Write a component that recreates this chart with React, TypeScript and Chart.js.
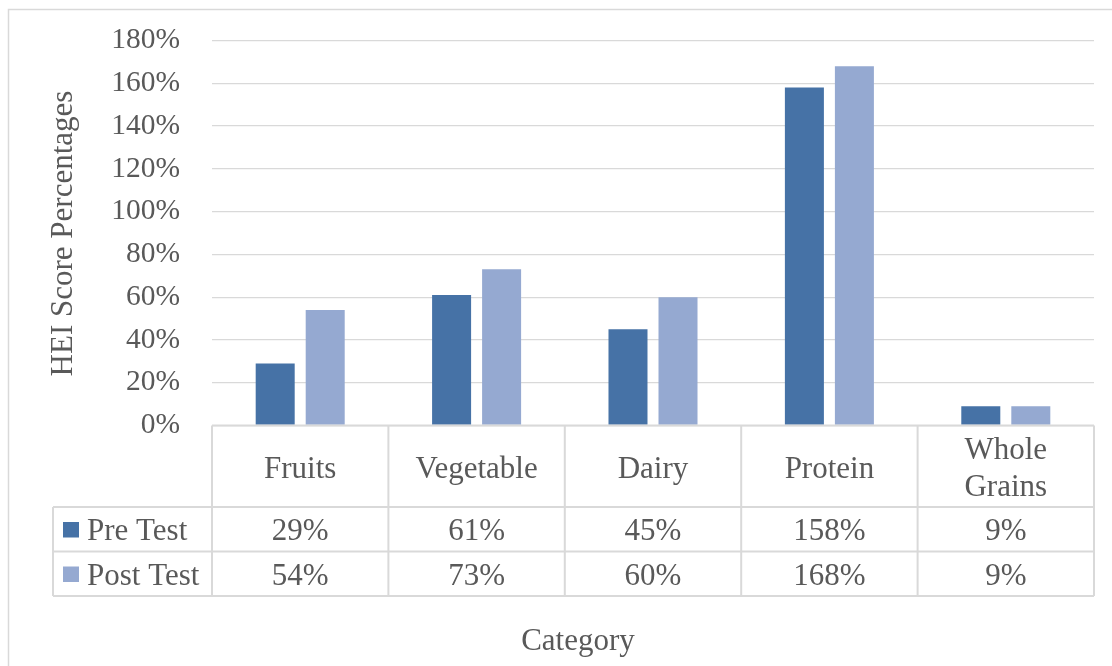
import React, { useEffect, useRef } from "react";
import { Chart, registerables } from "chart.js";

Chart.register(...registerables);

// HEI component scores, before and after the intervention (percent)
const categories = ["Fruits", "Vegetable", "Dairy", "Protein", "Whole Grains"];
const seriesNames = ["Pre Test", "Post Test"];
const preTest = [29, 61, 45, 158, 9];
const postTest = [54, 73, 60, 168, 9];
const yTicks = [0, 20, 40, 60, 80, 100, 120, 140, 160, 180];

const PRE_COLOR = "#4672A6";
const POST_COLOR = "#95A9D1";
const TEXT_COLOR = "#595959";
const LINE_COLOR = "#D9D9D9";
const FONT = "'Liberation Serif', 'Times New Roman', serif";

const W = 1112;
const H = 666;

// Excel-style data table drawn under the plot, plus frame and axis titles
const dataTablePlugin = {
  id: "dataTable",
  afterDraw(chart: any) {
    const { ctx, chartArea } = chart;
    const x = chart.scales.x;
    const n = categories.length;
    const half = (chartArea.right - chartArea.left) / n / 2;
    const edges: number[] = [];
    for (let i = 0; i < n; i++) edges.push(x.getPixelForValue(i) - half);
    edges.push(chartArea.right);

    const headerTop = chartArea.bottom;
    const headerBottom = headerTop + 81.5;
    const rowH = 44.5;
    const tableBottom = headerBottom + rowH * 2;
    const legendLeft = 53;

    ctx.save();

    // chart frame
    ctx.strokeStyle = LINE_COLOR;
    ctx.lineWidth = 1.5;
    ctx.beginPath();
    ctx.moveTo(8.5, H + 2);
    ctx.lineTo(8.5, 9.5);
    ctx.lineTo(W + 2, 9.5);
    ctx.stroke();

    // table grid
    ctx.lineWidth = 2;
    ctx.beginPath();
    ctx.moveTo(edges[0], headerTop);
    ctx.lineTo(edges[n], headerTop);
    ctx.moveTo(legendLeft, headerBottom);
    ctx.lineTo(edges[n], headerBottom);
    ctx.moveTo(legendLeft, headerBottom + rowH);
    ctx.lineTo(edges[n], headerBottom + rowH);
    ctx.moveTo(legendLeft, tableBottom);
    ctx.lineTo(edges[n], tableBottom);
    ctx.moveTo(legendLeft, headerBottom);
    ctx.lineTo(legendLeft, tableBottom);
    for (let i = 0; i <= n; i++) {
      ctx.moveTo(edges[i], headerTop);
      ctx.lineTo(edges[i], tableBottom);
    }
    ctx.stroke();

    ctx.fillStyle = TEXT_COLOR;
    ctx.font = `31px ${FONT}`;
    ctx.textAlign = "center";
    ctx.textBaseline = "alphabetic";

    // category headers, wrapped when too wide for the column
    for (let i = 0; i < n; i++) {
      const cx = (edges[i] + edges[i + 1]) / 2;
      const colW = edges[i + 1] - edges[i];
      const label = categories[i];
      const lines = ctx.measureText(label).width > colW - 16 ? label.split(" ") : [label];
      const lineH = 37;
      const mid = (headerTop + headerBottom) / 2;
      const firstBase = mid + 11.5 - ((lines.length - 1) * lineH) / 2;
      lines.forEach((ln, k) => ctx.fillText(ln, cx, firstBase + k * lineH));
    }

    // series rows
    const rows = [preTest, postTest];
    const colors = [PRE_COLOR, POST_COLOR];
    rows.forEach((vals, r) => {
      const rowTop = headerBottom + r * rowH;
      const base = rowTop + 33;
      ctx.fillStyle = colors[r];
      ctx.fillRect(63, rowTop + 15, 16, 15.5);
      ctx.fillStyle = TEXT_COLOR;
      ctx.textAlign = "left";
      ctx.fillText(seriesNames[r], 87, base);
      ctx.textAlign = "center";
      vals.forEach((v, i) => {
        ctx.fillText(`${v}%`, (edges[i] + edges[i + 1]) / 2, base);
      });
    });

    // axis titles
    ctx.textAlign = "center";
    ctx.fillText("Category", 578, 650);
    ctx.save();
    ctx.translate(72, (chartArea.top + chartArea.bottom) / 2 + 0.5);
    ctx.rotate(-Math.PI / 2);
    ctx.fillText("HEI Score Percentages", 0, 0);
    ctx.restore();

    ctx.restore();
  },
};

export default function App() {
  const canvasRef = useRef<HTMLCanvasElement | null>(null);

  useEffect(() => {
    if (!canvasRef.current) return;
    const chart = new Chart(canvasRef.current, {
      type: "bar",
      data: {
        labels: categories,
        datasets: [
          {
            label: seriesNames[0],
            data: preTest,
            backgroundColor: PRE_COLOR,
            barPercentage: 0.78,
            categoryPercentage: 0.567,
          },
          {
            label: seriesNames[1],
            data: postTest,
            backgroundColor: POST_COLOR,
            barPercentage: 0.78,
            categoryPercentage: 0.567,
          },
        ],
      },
      options: {
        responsive: false,
        animation: false,
        layout: { padding: { top: 40.5, bottom: H - 425.5, left: 0, right: W - 1094 } },
        plugins: {
          legend: { display: false },
          tooltip: { enabled: false },
          title: { display: false },
        },
        scales: {
          x: { display: false },
          y: {
            min: 0,
            max: 180,
            afterFit(scale: any) {
              scale.width = 212;
              // the layout padding already leaves room for the end labels
              scale.paddingTop = 0;
              scale.paddingBottom = 0;
            },
            afterBuildTicks(scale: any) {
              scale.ticks = yTicks.map((v) => ({ value: v }));
            },
            ticks: {
              padding: 32,
              color: TEXT_COLOR,
              font: { family: FONT, size: 29.5 },
              callback: (v: any) => `${v}%`,
            },
            grid: { color: LINE_COLOR, lineWidth: 1.3, drawTicks: false },
            border: { display: false },
          },
        },
      },
      plugins: [dataTablePlugin],
    });
    return () => chart.destroy();
  }, []);

  return (
    <div style={{ position: "absolute", left: 0, top: 0, width: W, height: H, background: "#fff" }}>
      <canvas ref={canvasRef} width={W} height={H} style={{ width: W, height: H, display: "block" }} />
    </div>
  );
}
